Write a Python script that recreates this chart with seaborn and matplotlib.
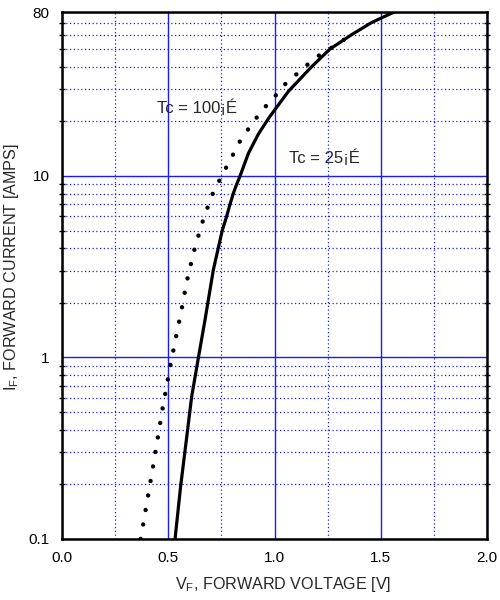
"""Forward voltage vs forward current (Tc = 25 / 100 deg) on a log current axis."""
import numpy as np
import pandas as pd
import matplotlib
matplotlib.use("Agg")
import matplotlib.pyplot as plt
from matplotlib.ticker import FixedLocator, NullFormatter
import seaborn as sns

# Tc = 25 curve (solid)
V_25 = [0.532, 0.558, 0.587, 0.610, 0.642, 0.673, 0.712, 0.754, 0.775,
        0.791, 0.806, 0.822, 0.838, 0.877, 0.924, 0.975, 1.065, 1.175,
        1.261, 1.363, 1.457, 1.559, 1.600]
I_25 = [0.1, 0.194, 0.365, 0.606, 1.0, 1.61, 3.03, 5.0, 6.0,
        7.0, 8.0, 9.0, 10.0, 13.3, 17.0, 21.0, 29.2, 40.0,
        50.0, 60.0, 70.0, 79.6, 84.0]

# Tc = 100 curve (dotted)
V_100 = [0.370, 0.405, 0.439, 0.472, 0.508, 0.535, 0.562, 0.587, 0.618,
         0.657, 0.704, 0.736, 0.772, 0.806, 0.842, 0.888, 0.940, 0.998,
         1.057, 1.128, 1.190, 1.261, 1.329, 1.360]
I_100 = [0.1, 0.173, 0.298, 0.512, 0.88, 1.27, 1.82, 2.61, 3.74,
         5.4, 7.75, 9.2, 11.1, 13.2, 15.9, 18.9, 22.9, 27.1,
         32.7, 38.4, 44.6, 50.2, 56.5, 59.5]

X_MAJOR = [0.0, 0.5, 1.0, 1.5, 2.0]
X_MINOR = [0.25, 0.75, 1.25, 1.75]
Y_MAJOR = [0.1, 1, 10, 80]
Y_LABELS = ["0.1", "1", "10", "80"]
Y_MINOR = [0.2, 0.3, 0.4, 0.5, 0.6, 0.7, 0.8, 0.9,
           2, 3, 4, 5, 6, 7, 8, 9, 20, 30, 40, 50, 60, 70]

sns.set_style("white")
plt.rcParams["font.family"] = ["Liberation Sans", "DejaVu Sans"]
plt.rcParams["mathtext.fontset"] = "custom"
plt.rcParams["mathtext.rm"] = "Liberation Sans"

df25 = pd.DataFrame({"V": V_25, "I": I_25})
df100 = pd.DataFrame({"V": V_100, "I": I_100})

fig = plt.figure(figsize=(5, 6), dpi=100)
ax = fig.add_axes([0.124, 0.1017, 0.850, 0.8783])

sns.lineplot(data=df25, x="V", y="I", ax=ax, sort=False, color="black",
             linewidth=2.3, solid_capstyle="butt", solid_joinstyle="round")
sns.lineplot(data=df100, x="V", y="I", ax=ax, sort=False, color="black",
             linewidth=3.2, linestyle=(0, (0.01, 3.3)), dash_capstyle="round")

ax.set_yscale("log")
ax.set_xlim(0, 2.0)
ax.set_ylim(0.1, 80)

ax.xaxis.set_major_locator(FixedLocator(X_MAJOR))
ax.xaxis.set_minor_locator(FixedLocator(X_MINOR))
ax.set_xticklabels([f"{v:.1f}" for v in X_MAJOR])
ax.yaxis.set_major_locator(FixedLocator(Y_MAJOR))
ax.yaxis.set_minor_locator(FixedLocator(Y_MINOR))
ax.yaxis.set_minor_formatter(NullFormatter())
ax.set_yticklabels(Y_LABELS)

ax.grid(which="major", color="#1a1aff", linewidth=1.0, linestyle="-")
ax.grid(which="minor", color="#1a1aff", linewidth=0.9, linestyle=(0, (1, 2)))
ax.set_axisbelow(True)

ax.tick_params(axis="both", which="major", labelsize=11, length=0, pad=9,
               colors="black")
ax.tick_params(axis="y", which="minor", direction="inout", length=4,
               width=1, left=True, right=True, color="black")
ax.tick_params(axis="x", which="minor", length=0)

for s in ax.spines.values():
    s.set_color("black")
    s.set_linewidth(1.8)

ax.set_xlabel(r"V$_\mathregular{F}$, FORWARD VOLTAGE [V]", fontsize=11.6)
ax.set_ylabel(r"I$_\mathregular{F}$, FORWARD CURRENT [AMPS]", fontsize=11.6)
ax.xaxis.set_label_coords(0.52, -0.068)
ax.yaxis.set_label_coords(-0.097, 0.515)

ax.text(0.447, 23.8, "Tc = 100¡É", fontsize=12, va="center", ha="left")
ax.text(1.068, 12.6, "Tc = 25¡É", fontsize=12, va="center", ha="left")

fig.savefig("out.png", dpi=100)
